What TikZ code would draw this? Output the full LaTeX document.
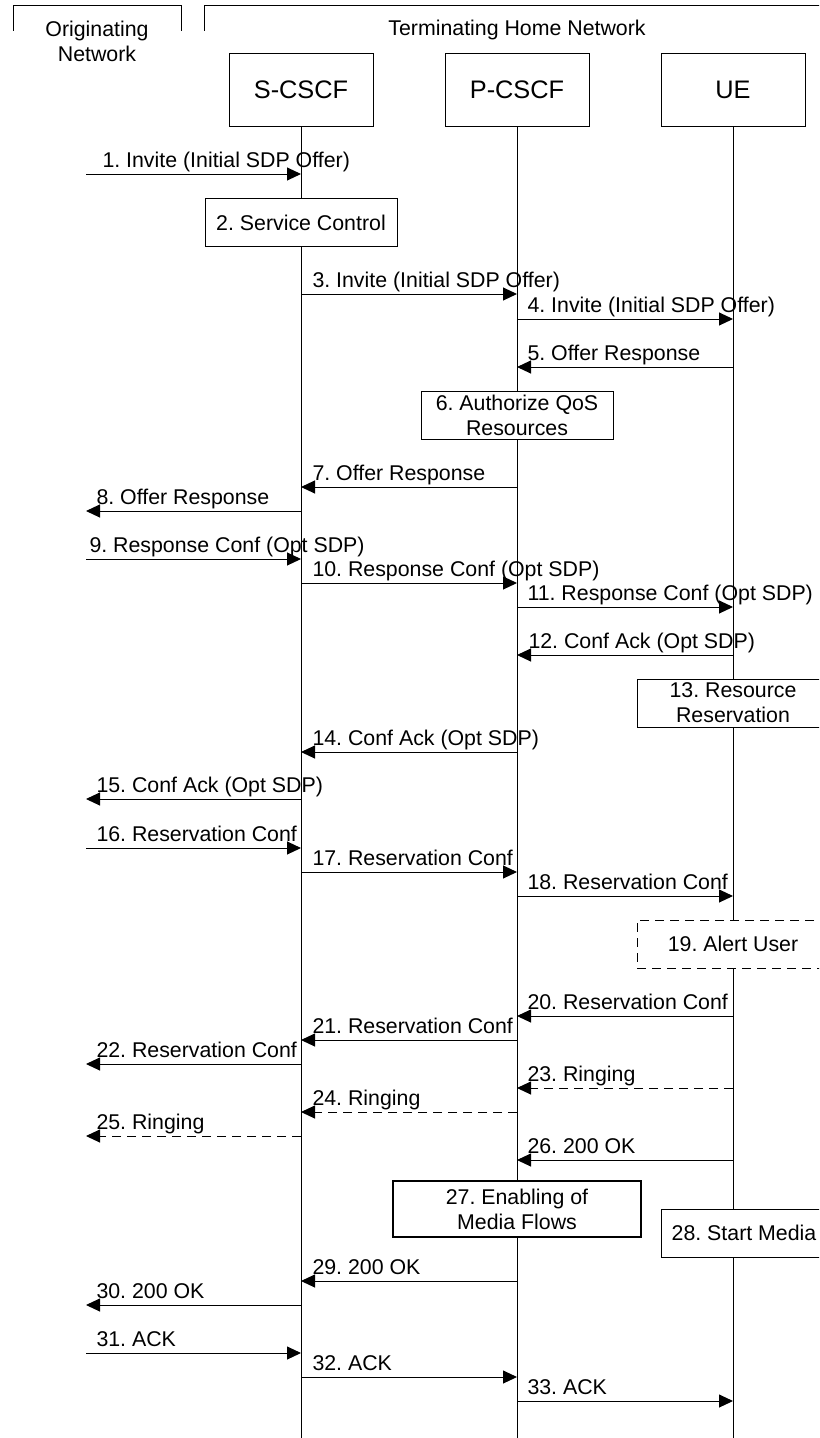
\documentclass[tikz,border=0pt]{standalone}
\usepackage{fontspec}
\setmainfont{Liberation Sans}
\usetikzlibrary{arrows.meta}
\frenchspacing

\begin{document}
\begin{tikzpicture}[x=0.75pt, y=-0.75pt, line width=0.75pt,
  >={Triangle[length=10.5pt, width=9.75pt]},
  font=\fontsize{16}{18.75}\selectfont,
  entity/.style={draw, fill=white, minimum width=108pt, minimum height=54pt, font=\fontsize{19}{22}\selectfont},
  action/.style={draw, fill=white, minimum width=144pt, minimum height=36pt, align=center, inner sep=0pt},
  lbl/.style={anchor=base west, inner sep=0pt},
  msg/.style={->},
  reply/.style={->, dash pattern=on 6.75pt off 4.5pt}]

  \useasboundingbox (0,0) rectangle (819,1438);
  \clip (0,0) rectangle (819,1438);

  % Network brackets
  \draw (13,31) -- (13,6) -- (181,6) -- (181,31);
  \draw (204.5,31) -- (204.5,6) -- (830,6);
  \node[align=center, inner sep=0pt] (orignet) at (97,41) {Originating\\Network};
  \node[anchor=base, inner sep=0pt] (termnet) at (517,35.5) {Terminating Home Network};

  % Entities
  \node[entity] (scscf) at (301,90) {S-CSCF};
  \node[entity] (pcscf) at (517,90) {P-CSCF};
  \node[entity] (ue) at (733,90) {UE};
  \coordinate (orig) at (86,90);
  \coordinate (scscfend) at (301,1440);
  \coordinate (pcscfend) at (517,1440);
  \coordinate (ueend) at (733,1440);

  % Lifelines
  \draw (scscf.south) -- (scscfend);
  \draw (pcscf.south) -- (pcscfend);
  \draw (ue.south) -- (ueend);

  % Invite
  \draw[msg] (orig |- 0,174) -- (scscf |- 0,174);
  \node[lbl] (m1) at (102,167.5) {1. Invite (Initial SDP Offer)};
  \node[action] (svc) at (301,222.5) {2. Service Control};
  \draw[msg] (scscf |- 0,294) -- (pcscf |- 0,294);
  \node[lbl] (m3) at (312,287.5) {3. Invite (Initial SDP Offer)};
  \draw[msg] (pcscf |- 0,319) -- (ue |- 0,319);
  \node[lbl] (m4) at (527,312.5) {4. Invite (Initial SDP Offer)};

  % Offer response
  \draw[msg] (ue |- 0,367) -- (pcscf |- 0,367);
  \node[lbl] (m5) at (527,360.5) {5. Offer Response};
  \node[action] (qos) at (517,415) {6. Authorize QoS\\Resources};
  \draw[msg] (pcscf |- 0,487) -- (scscf |- 0,487);
  \node[lbl] (m7) at (312,480.5) {7. Offer Response};
  \draw[msg] (scscf |- 0,511) -- (orig |- 0,511);
  \node[lbl] (m8) at (96,504.5) {8. Offer Response};

  % Response conf
  \draw[msg] (orig |- 0,559) -- (scscf |- 0,559);
  \node[lbl] (m9) at (89,552.5) {9. Response Conf (Opt SDP)};
  \draw[msg] (scscf |- 0,583) -- (pcscf |- 0,583);
  \node[lbl] (m10) at (312,576.5) {10. Response Conf (Opt SDP)};
  \draw[msg] (pcscf |- 0,607) -- (ue |- 0,607);
  \node[lbl] (m11) at (527,600.5) {11. Response Conf (Opt SDP)};
  \draw[msg] (ue |- 0,655) -- (pcscf |- 0,655);
  \node[lbl] (m12) at (528,648.5) {12. Conf Ack (Opt SDP)};
  \node[action] (resv) at (733,703) {13. Resource\\Reservation};
  \draw[msg] (pcscf |- 0,752) -- (scscf |- 0,752);
  \node[lbl] (m14) at (312,745.5) {14. Conf Ack (Opt SDP)};
  \draw[msg] (scscf |- 0,799) -- (orig |- 0,799);
  \node[lbl] (m15) at (96,792.5) {15. Conf Ack (Opt SDP)};

  % Reservation conf
  \draw[msg] (orig |- 0,848) -- (scscf |- 0,848);
  \node[lbl] (m16) at (96,841.5) {16. Reservation Conf};
  \draw[msg] (scscf |- 0,872) -- (pcscf |- 0,872);
  \node[lbl] (m17) at (312,865.5) {17. Reservation Conf};
  \draw[msg] (pcscf |- 0,896) -- (ue |- 0,896);
  \node[lbl] (m18) at (527,889.5) {18. Reservation Conf};
  \node[action, dash pattern=on 6.75pt off 4.5pt] (alert) at (733,944) {19. Alert User};
  \draw[msg] (ue |- 0,1016) -- (pcscf |- 0,1016);
  \node[lbl] (m20) at (527,1009.5) {20. Reservation Conf};
  \draw[msg] (pcscf |- 0,1040) -- (scscf |- 0,1040);
  \node[lbl] (m21) at (312,1033.5) {21. Reservation Conf};
  \draw[msg] (scscf |- 0,1064) -- (orig |- 0,1064);
  \node[lbl] (m22) at (96,1057.5) {22. Reservation Conf};

  % Ringing
  \draw[reply] (ue |- 0,1088) -- (pcscf |- 0,1088);
  \node[lbl] (m23) at (527,1081.5) {23. Ringing};
  \draw[reply] (pcscf |- 0,1112) -- (scscf |- 0,1112);
  \node[lbl] (m24) at (312,1105.5) {24. Ringing};
  \draw[reply] (scscf |- 0,1136) -- (orig |- 0,1136);
  \node[lbl] (m25) at (96,1129.5) {25. Ringing};

  % 200 OK
  \draw[msg] (ue |- 0,1160) -- (pcscf |- 0,1160);
  \node[lbl] (m26) at (527,1153.5) {26. 200 OK};
  \node[action, line width=1.5pt, minimum width=186pt, minimum height=42pt] (flows) at (517,1209) {27. Enabling of\\Media Flows};
  \node[action, minimum width=124.5pt] (media) at (744,1233) {28. Start Media};
  \draw[msg] (pcscf |- 0,1281) -- (scscf |- 0,1281);
  \node[lbl] (m29) at (312,1274.5) {29. 200 OK};
  \draw[msg] (scscf |- 0,1305) -- (orig |- 0,1305);
  \node[lbl] (m30) at (96,1298.5) {30. 200 OK};

  % ACK
  \draw[msg] (orig |- 0,1353) -- (scscf |- 0,1353);
  \node[lbl] (m31) at (96,1346.5) {31. ACK};
  \draw[msg] (scscf |- 0,1377) -- (pcscf |- 0,1377);
  \node[lbl] (m32) at (312,1370.5) {32. ACK};
  \draw[msg] (pcscf |- 0,1401) -- (ue |- 0,1401);
  \node[lbl] (m33) at (527,1394.5) {33. ACK};
\end{tikzpicture}
\end{document}
